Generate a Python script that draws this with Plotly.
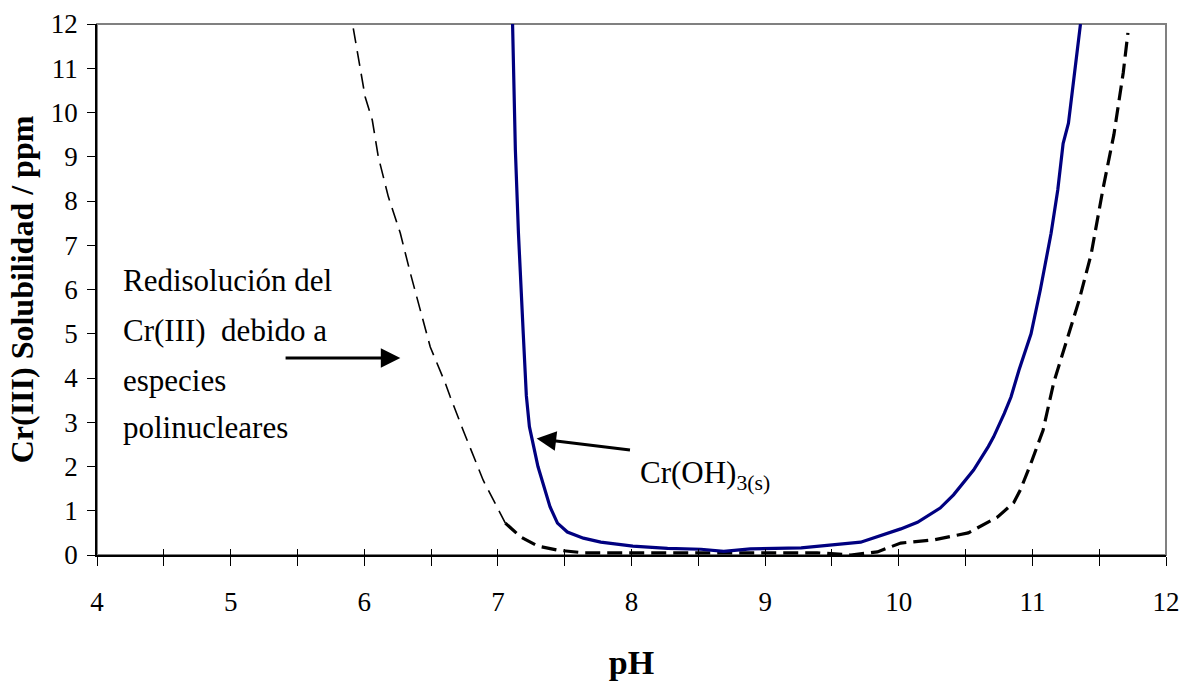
import plotly.graph_objects as go

# Cr(OH)3(s) solubility (solid navy curve)
ph_solid = [7.11, 7.116, 7.131, 7.154, 7.169, 7.19, 7.213, 7.236, 7.30, 7.39, 7.446, 7.52,
            7.64, 7.77, 8.01, 8.27, 8.52, 8.69, 8.89, 9.27, 9.715, 10.015, 10.14, 10.31,
            10.41, 10.56, 10.67, 10.71, 10.79, 10.84, 10.90, 10.99, 11.06, 11.14, 11.19,
            11.23, 11.27, 11.31, 11.36]
sol_solid = [12.0, 11.0, 9.15, 7.27, 6.15, 5.0, 3.6, 2.9, 2.0, 1.09, 0.72, 0.52,
             0.38, 0.29, 0.2, 0.15, 0.13, 0.08, 0.14, 0.16, 0.29, 0.59, 0.74, 1.06,
             1.36, 1.92, 2.45, 2.67, 3.2, 3.57, 4.18, 5.0, 6.0, 7.27, 8.25,
             9.3, 9.76, 10.8, 12.0]

# Polynuclear species curve (dashed), acid branch (thin dashes)
ph_dash_a = [5.918, 5.985, 6.007, 6.06, 6.105, 6.18, 6.27, 6.345, 6.42, 6.494, 6.607,
             6.644, 6.74, 6.89, 7.056]
sol_dash_a = [11.9, 10.67, 10.35, 9.83, 9.0, 8.1, 7.27, 6.37, 5.54, 4.7, 3.88,
              3.57, 2.82, 1.69, 0.72]

# Polynuclear species curve (dashed), remainder (thick dashes)
ph_dash_b = [7.056, 7.17, 7.30, 7.446, 7.64, 8.01, 8.64, 9.39, 9.64, 9.84, 10.015, 10.26,
             10.52, 10.74, 10.86, 10.91, 10.99, 11.08, 11.16, 11.27, 11.35, 11.44,
             11.53, 11.61, 11.68, 11.715]
sol_dash_b = [0.72, 0.41, 0.2, 0.11, 0.05, 0.05, 0.04, 0.05, 0.0, 0.07, 0.27, 0.34,
              0.5, 0.86, 1.18, 1.47, 2.08, 2.82, 3.9, 5.0, 5.76, 6.8,
              8.3, 9.5, 10.9, 11.8]

x_tickvals = [4, 4.5, 5, 5.5, 6, 6.5, 7, 7.5, 8, 8.5, 9, 9.5, 10, 10.5, 11, 11.5, 12]
x_ticktext = ["4", "", "5", "", "6", "", "7", "", "8", "", "9", "", "10", "", "11", "", "12"]
y_tickvals = list(range(0, 13))

FONT = "Liberation Serif"

fig = go.Figure()
fig.add_trace(go.Scatter(x=ph_dash_a, y=sol_dash_a, mode="lines",
                         line=dict(color="black", width=1.6, dash="15px,8px"),
                         showlegend=False, hoverinfo="skip"))
fig.add_trace(go.Scatter(x=ph_dash_b, y=sol_dash_b, mode="lines",
                         line=dict(color="black", width=3.2, dash="15px,7px"),
                         showlegend=False, hoverinfo="skip"))
fig.add_trace(go.Scatter(x=ph_solid, y=sol_solid, mode="lines",
                         line=dict(color="#000080", width=3.2),
                         showlegend=False, hoverinfo="skip", cliponaxis=False))
# invisible trace to carry the overlay axis (inner tick marks)
fig.add_trace(go.Scatter(x=[4, 12], y=[0, 0], xaxis="x2", mode="lines",
                         line=dict(width=0), showlegend=False, hoverinfo="skip", opacity=0))

fig.update_layout(
    width=1185, height=681,
    margin=dict(l=97, r=19, t=24, b=126, autoexpand=False),
    paper_bgcolor="white", plot_bgcolor="white",
    font=dict(family=FONT, color="black", size=27),
    xaxis=dict(range=[4, 12], tickvals=x_tickvals, ticktext=x_ticktext,
               ticks="outside", ticklen=9, tickwidth=1.2, tickcolor="black",
               ticklabelstandoff=13,
               showline=True, linecolor="black", linewidth=1.5, showgrid=False,
               zeroline=False, tickfont=dict(family=FONT, size=27), automargin=False,
               title=dict(text="<b>pH</b>", font=dict(family=FONT, size=34), standoff=35)),
    xaxis2=dict(range=[4, 12], overlaying="x", anchor="y", side="bottom",
                tickvals=x_tickvals, showticklabels=False, ticks="inside",
                ticklen=6, tickwidth=1.2, tickcolor="black", showline=False,
                showgrid=False, zeroline=False, automargin=False),
    yaxis=dict(range=[0, 12], tickvals=y_tickvals, ticks="outside", ticklen=8,
               tickwidth=1.2, tickcolor="black", showline=True, linecolor="black",
               linewidth=1.5, showgrid=False, zeroline=False, automargin=False,
               ticklabelstandoff=4,
               tickfont=dict(family=FONT, size=27),
               title=dict(text="<b>Cr(III) Solubilidad / ppm</b>",
                          font=dict(family=FONT, size=32), standoff=8)),
    shapes=[dict(type="rect", xref="x domain", yref="y domain", x0=0, x1=1, y0=0, y1=1,
                 line=dict(color="#808080", width=2), layer="below")],
)

ann_lines = ["Redisolución del", "Cr(III)  debido a", "especies", "polinucleares"]
ann_y = [6.21, 5.08, 3.95, 2.89]
for txt, yy in zip(ann_lines, ann_y):
    fig.add_annotation(x=4.18, y=yy, xref="x", yref="y", text=txt, showarrow=False,
                       xanchor="left", yanchor="middle",
                       font=dict(family=FONT, size=31, color="black"))

# arrow pointing to the polynuclear curve
fig.add_annotation(x=6.27, y=4.45, ax=5.4, ay=4.45, xref="x", yref="y",
                   axref="x", ayref="y", text="", showarrow=True,
                   arrowhead=2, arrowsize=1.3, arrowwidth=3, arrowcolor="black")
# arrow pointing to Cr(OH)3 curve
fig.add_annotation(x=7.29, y=2.63, ax=8.0, ay=2.37, xref="x", yref="y",
                   axref="x", ayref="y", text="", showarrow=True,
                   arrowhead=2, arrowsize=1.3, arrowwidth=3, arrowcolor="black")
fig.add_annotation(x=8.05, y=1.8, xref="x", yref="y",
                   text="Cr(OH)<sub>3(s)</sub>", showarrow=False,
                   xanchor="left", yanchor="middle",
                   font=dict(family=FONT, size=31, color="black"))

fig.write_html("out.html", config={"displayModeBar": False},
               post_script="document.body.style.margin='0';document.body.style.overflow='hidden';")
